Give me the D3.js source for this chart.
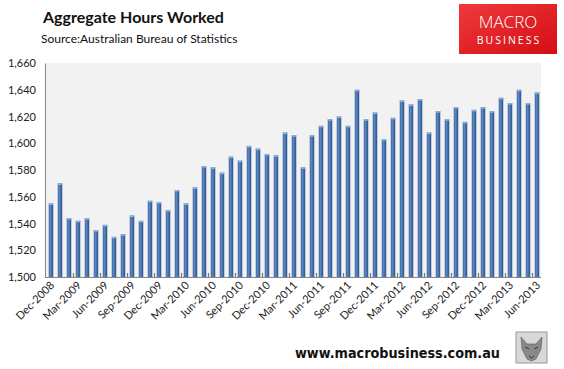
<!DOCTYPE html>
<html>
<head>
<meta charset="utf-8">
<script src="https://cdn.jsdelivr.net/npm/d3@7/dist/d3.min.js"></script>
<style>
  body { margin: 0; background: #fff; }
  svg { display: block; }
  .tick-lbl { font-family: Lato, "Open Sans", sans-serif; font-size: 11px; fill: #222; }
</style>
</head>
<body>
<div id="chart"></div>
<script>
"use strict";

// months Dec-2008 .. Jun-2013
var monthNames = ["Jan","Feb","Mar","Apr","May","Jun","Jul","Aug","Sep","Oct","Nov","Dec"];
var months = [];
for (let i = 0; i < 55; i++) {
  var m = (11 + i) % 12, y = 2008 + Math.floor((11 + i) / 12);
  months.push(monthNames[m] + "-" + y);
}

// aggregate hours worked (millions)
var hours = [
  1555, 1570, 1544, 1542, 1544, 1535, 1539, 1530, 1532, 1546, 1542, 1557, 1556,
  1550, 1565, 1555, 1567, 1583, 1582, 1578, 1590, 1587, 1598, 1596, 1592, 1591,
  1608, 1606, 1582, 1606, 1613, 1618, 1620, 1613, 1640, 1618, 1623, 1603, 1619,
  1632, 1629, 1633, 1608, 1624, 1618, 1627, 1616, 1625, 1627, 1624, 1634, 1630,
  1640, 1630, 1638
];

var yTicks = [1500, 1520, 1540, 1560, 1580, 1600, 1620, 1640, 1660];

var width = 564, height = 369;
var plot = {left: 45, right: 541, top: 63, bottom: 277};

var svg = d3.select("#chart").append("svg")
  .attr("width", width).attr("height", height);

var defs = svg.append("defs");
var barGrad = defs.append("linearGradient").attr("id", "barGrad")
  .attr("x1", "0%").attr("x2", "100%").attr("y1", "0%").attr("y2", "0%");
barGrad.append("stop").attr("offset", "0%").attr("stop-color", "#3a629a");
barGrad.append("stop").attr("offset", "35%").attr("stop-color", "#5b89c7");
barGrad.append("stop").attr("offset", "100%").attr("stop-color", "#2c5083");

var logoGrad = defs.append("linearGradient").attr("id", "logoGrad")
  .attr("x1", "0%").attr("x2", "100%").attr("y1", "0%").attr("y2", "100%");
logoGrad.append("stop").attr("offset", "0%").attr("stop-color", "#ee3a3c");
logoGrad.append("stop").attr("offset", "100%").attr("stop-color", "#d40d14");

// titles
svg.append("text").text("Aggregate Hours Worked")
  .attr("x", 43).attr("y", 23)
  .style("font-family", "Lato, sans-serif").style("font-weight", "bold")
  .style("font-size", "16px").style("fill", "#111");
svg.append("text").text("Source:Australian Bureau of Statistics")
  .attr("x", 41).attr("y", 43)
  .style("font-family", "Lato, sans-serif").style("font-size", "12px")
  .style("fill", "#111");

// logo
var logo = svg.append("g").attr("class", "logo");
logo.append("rect").attr("x", 459).attr("y", 4).attr("width", 98).attr("height", 50)
  .attr("fill", "url(#logoGrad)");
logo.append("text").text("MACRO").attr("x", 508).attr("y", 28)
  .attr("text-anchor", "middle")
  .style("font-family", "\"Open Sans\", sans-serif").style("font-size", "17px")
  .style("font-weight", "300").style("fill", "#fff");
logo.append("text").text("BUSINESS").attr("x", 509).attr("y", 44)
  .attr("text-anchor", "middle")
  .style("font-family", "\"Open Sans\", sans-serif").style("font-size", "10.5px")
  .style("letter-spacing", "2px").style("fill", "#fff");

// scales
var x = d3.scaleBand().domain(months)
  .range([46.5, 541.5]).paddingInner(0.5).paddingOuter(0.25);
var y = d3.scaleLinear().domain([1500, 1660]).range([plot.bottom, plot.top]);

// plot background
svg.append("rect").attr("x", plot.left).attr("y", plot.top)
  .attr("width", plot.right - plot.left).attr("height", plot.bottom - plot.top)
  .attr("fill", "#f2f2f2");

// bars
var bars = svg.append("g").attr("class", "bars");
bars.selectAll(".bar").data(hours).enter().append("rect")
  .attr("class", "bar")
  .attr("x", function(d, i){ return x(months[i]); })
  .attr("y", function(d){ return y(d); })
  .attr("width", x.bandwidth())
  .attr("height", function(d){ return plot.bottom - y(d); })
  .attr("fill", "url(#barGrad)");
bars.selectAll(".cap").data(hours).enter().append("rect")
  .attr("class", "cap")
  .attr("x", function(d, i){ return x(months[i]); })
  .attr("y", function(d){ return y(d); })
  .attr("width", x.bandwidth()).attr("height", 1.5)
  .attr("fill", "#8fb3e3");

// y axis
var yAxis = svg.append("g").attr("transform", "translate(" + plot.left + ",0)")
  .call(d3.axisLeft(y).tickValues(yTicks).tickFormat(d3.format(",")).tickSize(0).tickPadding(9));
yAxis.select(".domain").attr("stroke", "#868686");
yAxis.selectAll("text").attr("class", "tick-lbl").attr("fill", null);

// x axis line and inner ticks every quarter
svg.append("line").attr("x1", plot.left).attr("x2", plot.right)
  .attr("y1", plot.bottom + 0.5).attr("y2", plot.bottom + 0.5)
  .attr("stroke", "#868686");
var step = x.step();
var tickIdx = d3.range(2, months.length - 1, 3);
svg.selectAll(".xtick").data(tickIdx).enter().append("line")
  .attr("class", "xtick")
  .attr("x1", function(i){ return x(months[i]) + x.bandwidth() + (step - x.bandwidth()) / 2; })
  .attr("x2", function(i){ return x(months[i]) + x.bandwidth() + (step - x.bandwidth()) / 2; })
  .attr("y1", plot.bottom - 4).attr("y2", plot.bottom)
  .attr("stroke", "#777").attr("stroke-width", 1.2);

// x labels
var lblIdx = d3.range(0, months.length, 3);
svg.selectAll(".xlbl").data(lblIdx).enter().append("text")
  .attr("class", "tick-lbl")
  .attr("text-anchor", "end")
  .attr("transform", function(i){
    var cx = x(months[i]) + x.bandwidth() / 2;
    return "translate(" + (cx + 4) + "," + (plot.bottom + 9) + ") rotate(-45)";
  })
  .text(function(i){ return months[i]; });

// footer
svg.append("text").text("www.macrobusiness.com.au")
  .attr("x", 295).attr("y", 358)
  .attr("textLength", 205).attr("lengthAdjust", "spacingAndGlyphs")
  .style("font-family", "\"DejaVu Sans\", sans-serif").style("font-weight", "bold")
  .style("font-size", "14px").style("fill", "#111");

// wolf badge
var badge = svg.append("g").attr("transform", "translate(516,332)");
badge.append("rect").attr("width", 31).attr("height", 31)
  .attr("fill", "#d8d8d8").attr("stroke", "#999");
badge.append("path")
  .attr("d", "M5,5 L11,12 L20,12 L26,5 L25,17 L20,27 L15.5,29 L11,27 L6,17 Z")
  .attr("fill", "#8a8a8a").attr("stroke", "#555").attr("stroke-width", 0.6);
badge.append("path")
  .attr("d", "M9,15 L13,17 M22,15 L18,17 M13,24 L15.5,26 L18,24")
  .attr("fill", "none").attr("stroke", "#333").attr("stroke-width", 1);
</script>
</body>
</html>
